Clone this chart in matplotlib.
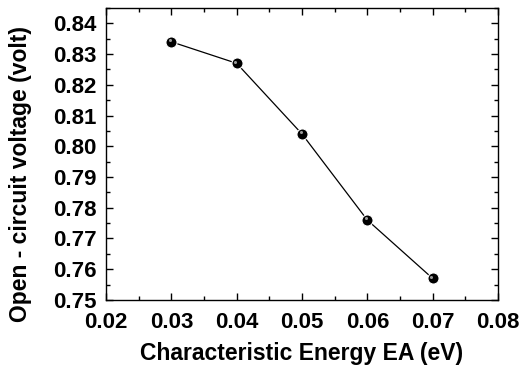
import numpy as np
import matplotlib.pyplot as plt
from matplotlib.ticker import MultipleLocator
import matplotlib.transforms as mtransforms

plt.rcParams['font.family'] = ['Liberation Sans', 'DejaVu Sans']
plt.rcParams['font.weight'] = 'bold'

energy = [0.03, 0.04, 0.05, 0.06, 0.07]
voc = [0.834, 0.827, 0.804, 0.776, 0.757]

fig = plt.figure(figsize=(5.23, 3.74), dpi=100)
ax = fig.add_axes([0.2027, 0.198, 0.7495, 0.7806])

ax.plot(energy, voc, color='black', lw=0.9, zorder=2)
ax.plot(energy, voc, 'o', color='black', ms=8, mec='white', mew=0.8, zorder=3)
# small highlight to mimic the shaded spheres
shift = mtransforms.ScaledTranslation(-1.0 / 72, 1.2 / 72, fig.dpi_scale_trans)
ax.plot(energy, voc, 'o', color='#9a9a9a', ms=2.2, mec='none', zorder=4,
        transform=ax.transData + shift)

ax.set_xlim(0.02, 0.08)
ax.set_ylim(0.75, 0.845)
ax.xaxis.set_major_locator(MultipleLocator(0.01))
ax.xaxis.set_minor_locator(MultipleLocator(0.005))
ax.yaxis.set_major_locator(MultipleLocator(0.01))
ax.yaxis.set_minor_locator(MultipleLocator(0.005))
ax.xaxis.set_major_formatter(plt.FormatStrFormatter('%.2f'))
ax.yaxis.set_major_formatter(plt.FormatStrFormatter('%.2f'))

ax.tick_params(which='both', direction='in', top=True, right=True, width=1)
ax.tick_params(which='major', length=5, labelsize=16)
ax.tick_params(which='minor', length=3)
ax.tick_params(axis='x', which='major', pad=9)
ax.tick_params(axis='y', which='major', pad=7)
for s in ax.spines.values():
    s.set_linewidth(1)

ax.set_xlabel('Characteristic Energy EA (eV)', fontsize=16.5, fontweight='bold', labelpad=6)
ax.set_ylabel('Open - circuit voltage (volt)', fontsize=16.5, fontweight='bold')
ax.yaxis.set_label_coords(-0.19, 0.43)

fig.savefig('out.png', dpi=100)
